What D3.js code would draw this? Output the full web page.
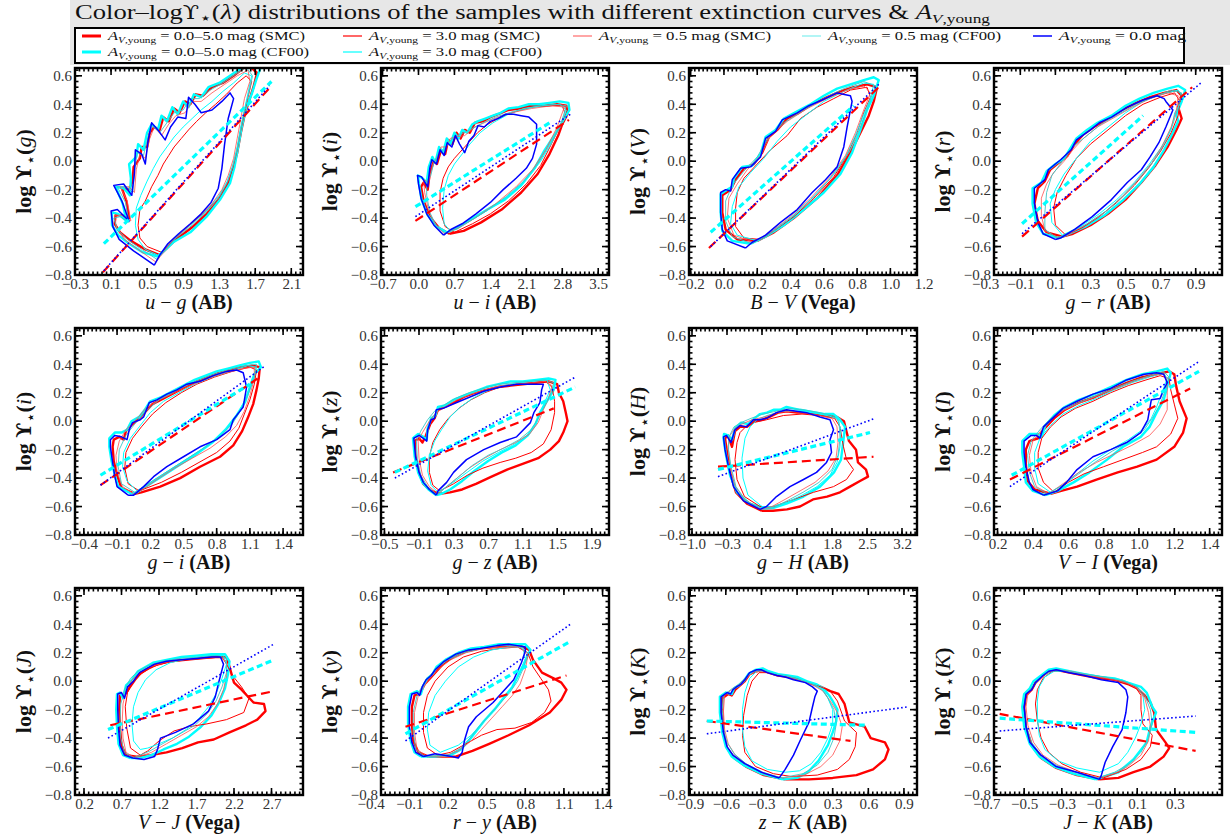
<!DOCTYPE html>
<html>
<head>
<meta charset="utf-8">
<script src="https://cdn.jsdelivr.net/npm/d3@7"></script>
<style>
  body { margin: 0; background: #fff; }
  svg text { font-family: 'Liberation Serif', 'Times New Roman', serif; }
</style>
</head>
<body>
<svg id="fig" width="1230" height="839"></svg>
<script>
// ---------------------------------------------------------------
// Tick labels
// ---------------------------------------------------------------
const yTicks = [-0.8, -0.6, -0.4, -0.2, 0.0, 0.2, 0.4, 0.6];
const ticksUG = [-0.3, 0.1, 0.5, 0.9, 1.3, 1.7, 2.1];
const ticksUI = [-0.7, 0.0, 0.7, 1.4, 2.1, 2.8, 3.5];
const ticksBV = [-0.2, 0.0, 0.2, 0.4, 0.6, 0.8, 1.0, 1.2];
const ticksGR = [-0.3, -0.1, 0.1, 0.3, 0.5, 0.7, 0.9];
const ticksGI = [-0.4, -0.1, 0.2, 0.5, 0.8, 1.1, 1.4];
const ticksGZ = [-0.5, -0.1, 0.3, 0.7, 1.1, 1.5, 1.9];
const ticksGH = [-1.0, -0.3, 0.4, 1.1, 1.8, 2.5, 3.2];
const ticksVI = [0.2, 0.4, 0.6, 0.8, 1.0, 1.2, 1.4];
const ticksVJ = [0.2, 0.7, 1.2, 1.7, 2.2, 2.7];
const ticksRY = [-0.4, -0.1, 0.2, 0.5, 0.8, 1.1, 1.4];
const ticksZK = [-0.9, -0.6, -0.3, 0.0, 0.3, 0.6, 0.9];
const ticksJK = [-0.7, -0.5, -0.3, -0.1, 0.1, 0.3];

// ---------------------------------------------------------------
// Contour outlines, one list per panel, in series order:
// [0.0-5.0 SMC, 0.0-5.0 CF00, 3.0 SMC, 3.0 CF00, 0.5 SMC, 0.5 CF00, 0.0 mag]
// ---------------------------------------------------------------
const contUG = [
  [[0.64,-0.66],[0.48,-0.62],[0.32,-0.56],[0.20,-0.50],[0.14,-0.44],[0.15,-0.38],[0.22,-0.38],[0.30,-0.40],[0.27,-0.28],[0.22,-0.19],[0.30,-0.20],[0.34,-0.14],[0.35,-0.04],[0.42,0.02],[0.44,0.10],[0.50,0.10],[0.53,0.20],[0.58,0.24],[0.64,0.22],[0.68,0.31],[0.74,0.28],[0.80,0.37],[0.86,0.34],[0.92,0.42],[0.98,0.40],[1.04,0.47],[1.12,0.46],[1.22,0.52],[1.34,0.55],[1.46,0.60],[1.62,0.68],[1.72,0.62],[1.68,0.52],[1.63,0.42],[1.58,0.32],[1.54,0.20],[1.50,0.06],[1.45,-0.06],[1.39,-0.17],[1.30,-0.27],[1.16,-0.37],[0.99,-0.47],[0.82,-0.55],[0.64,-0.66]],
  [[0.62,-0.67],[0.45,-0.64],[0.30,-0.58],[0.18,-0.52],[0.11,-0.45],[0.11,-0.36],[0.18,-0.37],[0.27,-0.42],[0.23,-0.30],[0.15,-0.18],[0.24,-0.19],[0.31,-0.24],[0.32,-0.12],[0.30,-0.02],[0.38,0.03],[0.40,0.12],[0.46,0.08],[0.50,0.20],[0.55,0.26],[0.62,0.22],[0.66,0.32],[0.72,0.28],[0.78,0.38],[0.84,0.33],[0.90,0.42],[0.96,0.38],[1.02,0.47],[1.10,0.45],[1.18,0.52],[1.30,0.55],[1.42,0.60],[1.56,0.66],[1.74,0.70],[1.76,0.66],[1.71,0.57],[1.66,0.47],[1.60,0.38],[1.55,0.24],[1.51,0.10],[1.47,-0.04],[1.42,-0.155],[1.31,-0.27],[1.16,-0.39],[0.98,-0.50],[0.79,-0.57],[0.62,-0.67]],
  [[0.66,-0.64],[0.50,-0.60],[0.42,-0.54],[0.40,-0.45],[0.42,-0.34],[0.48,-0.28],[0.55,-0.18],[0.62,-0.10],[0.68,-0.02],[0.74,0.04],[0.80,0.10],[0.88,0.16],[0.96,0.22],[1.05,0.28],[1.15,0.34],[1.26,0.40],[1.38,0.47],[1.50,0.55],[1.60,0.60],[1.66,0.56],[1.62,0.45],[1.58,0.34],[1.54,0.22],[1.50,0.08],[1.45,-0.05],[1.38,-0.17],[1.28,-0.27],[1.14,-0.36],[0.97,-0.45],[0.80,-0.55],[0.66,-0.64]],
  [[0.62,-0.66],[0.48,-0.62],[0.40,-0.55],[0.37,-0.45],[0.38,-0.33],[0.43,-0.24],[0.50,-0.14],[0.57,-0.05],[0.64,0.03],[0.72,0.10],[0.80,0.17],[0.90,0.24],[1.00,0.30],[1.10,0.36],[1.22,0.42],[1.34,0.49],[1.46,0.55],[1.58,0.62],[1.66,0.60],[1.62,0.48],[1.58,0.36],[1.54,0.24],[1.50,0.10],[1.45,-0.03],[1.39,-0.14],[1.30,-0.24],[1.17,-0.34],[1.00,-0.44],[0.82,-0.53],[0.62,-0.66]],
  [[0.60,-0.71],[0.40,-0.62],[0.25,-0.55],[0.16,-0.47],[0.14,-0.38],[0.22,-0.38],[0.32,-0.42],[0.28,-0.28],[0.20,-0.18],[0.30,-0.18],[0.36,-0.22],[0.38,-0.06],[0.42,0.05],[0.48,0.02],[0.53,0.16],[0.58,0.24],[0.66,0.18],[0.74,0.26],[0.82,0.32],[0.92,0.34],[1.00,0.42],[1.10,0.42],[1.22,0.48],[1.36,0.54],[1.50,0.60],[1.62,0.64],[1.64,0.56],[1.58,0.44],[1.54,0.30],[1.50,0.16],[1.46,0.02],[1.40,-0.10],[1.33,-0.20],[1.22,-0.30],[1.08,-0.39],[0.92,-0.48],[0.76,-0.57],[0.60,-0.71]],
  [[0.61,-0.69],[0.44,-0.62],[0.28,-0.55],[0.17,-0.48],[0.13,-0.40],[0.20,-0.39],[0.30,-0.43],[0.26,-0.29],[0.17,-0.18],[0.27,-0.18],[0.34,-0.22],[0.36,-0.07],[0.39,0.06],[0.46,0.04],[0.51,0.17],[0.56,0.25],[0.64,0.20],[0.72,0.27],[0.80,0.34],[0.90,0.36],[0.98,0.44],[1.08,0.44],[1.20,0.50],[1.34,0.55],[1.48,0.61],[1.60,0.66],[1.67,0.60],[1.63,0.48],[1.58,0.36],[1.54,0.22],[1.50,0.08],[1.45,-0.04],[1.39,-0.15],[1.30,-0.25],[1.17,-0.35],[1.00,-0.45],[0.82,-0.54],[0.61,-0.69]],
  [[0.58,-0.73],[0.35,-0.63],[0.19,-0.55],[0.12,-0.46],[0.10,-0.35],[0.17,-0.34],[0.30,-0.42],[0.22,-0.28],[0.13,-0.17],[0.24,-0.16],[0.33,-0.24],[0.36,-0.08],[0.37,0.08],[0.44,0.05],[0.48,-0.02],[0.51,0.14],[0.55,0.27],[0.62,0.22],[0.70,0.15],[0.76,0.24],[0.84,0.31],[0.93,0.30],[0.96,0.45],[1.03,0.40],[1.10,0.34],[1.22,0.36],[1.33,0.42],[1.42,0.48],[1.46,0.44],[1.40,0.30],[1.36,0.12],[1.33,-0.05],[1.29,-0.19],[1.21,-0.29],[1.10,-0.37],[0.98,-0.44],[0.85,-0.51],[0.73,-0.58],[0.64,-0.66],[0.58,-0.73]]
];
const contUI = [
  [[0.60,-0.51],[0.40,-0.47],[0.22,-0.39],[0.10,-0.28],[0.05,-0.18],[0.10,-0.15],[0.18,-0.20],[0.22,-0.08],[0.30,0.00],[0.36,-0.02],[0.44,0.08],[0.52,0.05],[0.58,0.15],[0.66,0.12],[0.74,0.20],[0.82,0.16],[0.90,0.22],[1.00,0.20],[1.10,0.27],[1.25,0.28],[1.40,0.31],[1.55,0.33],[1.75,0.36],[1.95,0.37],[2.20,0.39],[2.45,0.39],[2.70,0.40],[2.88,0.39],[2.90,0.33],[2.80,0.26],[2.72,0.18],[2.55,0.05],[2.32,-0.09],[2.00,-0.22],[1.62,-0.34],[1.22,-0.43],[0.88,-0.49],[0.60,-0.51]],
  [[0.55,-0.50],[0.35,-0.46],[0.18,-0.38],[0.06,-0.27],[0.01,-0.16],[-0.01,-0.10],[0.08,-0.12],[0.16,-0.15],[0.20,-0.04],[0.27,0.03],[0.33,-0.01],[0.40,0.10],[0.48,0.06],[0.55,0.16],[0.62,0.12],[0.70,0.20],[0.78,0.16],[0.85,0.22],[0.95,0.20],[1.05,0.26],[1.15,0.28],[1.30,0.30],[1.45,0.32],[1.60,0.34],[1.75,0.37],[1.95,0.38],[2.15,0.40],[2.35,0.40],[2.55,0.41],[2.75,0.42],[2.92,0.41],[2.94,0.36],[2.84,0.30],[2.66,0.19],[2.46,0.08],[2.26,-0.05],[2.00,-0.17],[1.68,-0.27],[1.34,-0.34],[1.02,-0.41],[0.76,-0.47],[0.55,-0.50]],
  [[0.70,-0.50],[0.52,-0.46],[0.42,-0.35],[0.42,-0.22],[0.48,-0.12],[0.58,-0.04],[0.70,0.02],[0.85,0.08],[1.00,0.14],[1.15,0.20],[1.35,0.26],[1.60,0.31],[1.90,0.35],[2.20,0.38],[2.50,0.39],[2.80,0.39],[2.86,0.33],[2.72,0.22],[2.56,0.10],[2.38,-0.03],[2.10,-0.16],[1.75,-0.28],[1.40,-0.37],[1.05,-0.44],[0.70,-0.50]],
  [[0.62,-0.49],[0.50,-0.44],[0.47,-0.33],[0.50,-0.20],[0.58,-0.10],[0.70,-0.02],[0.85,0.05],[1.00,0.12],[1.20,0.20],[1.45,0.27],[1.75,0.33],[2.05,0.37],[2.40,0.39],[2.75,0.40],[2.88,0.36],[2.76,0.25],[2.58,0.12],[2.38,0.00],[2.12,-0.12],[1.80,-0.23],[1.45,-0.32],[1.10,-0.40],[0.80,-0.46],[0.62,-0.49]],
  [[0.50,-0.51],[0.32,-0.44],[0.20,-0.35],[0.12,-0.22],[0.10,-0.13],[0.20,-0.15],[0.28,-0.02],[0.36,0.02],[0.44,0.10],[0.55,0.10],[0.62,0.16],[0.72,0.17],[0.90,0.18],[1.10,0.24],[1.40,0.29],[1.80,0.34],[2.20,0.37],[2.60,0.39],[2.84,0.38],[2.70,0.24],[2.48,0.08],[2.22,-0.06],[1.90,-0.18],[1.50,-0.30],[1.10,-0.40],[0.78,-0.47],[0.50,-0.51]],
  [[0.52,-0.51],[0.34,-0.45],[0.22,-0.36],[0.16,-0.24],[0.16,-0.14],[0.24,-0.10],[0.30,-0.01],[0.40,0.06],[0.50,0.08],[0.60,0.14],[0.75,0.18],[0.95,0.21],[1.20,0.26],[1.50,0.31],[1.85,0.35],[2.25,0.38],[2.65,0.40],[2.88,0.39],[2.78,0.27],[2.58,0.13],[2.34,-0.01],[2.05,-0.14],[1.70,-0.25],[1.32,-0.35],[0.96,-0.43],[0.70,-0.48],[0.52,-0.51]],
  [[0.49,-0.52],[0.30,-0.45],[0.16,-0.37],[0.05,-0.26],[0.00,-0.16],[-0.02,-0.10],[0.06,-0.11],[0.18,-0.18],[0.22,-0.05],[0.26,0.01],[0.35,-0.02],[0.42,0.08],[0.50,0.04],[0.56,0.13],[0.65,0.10],[0.72,0.18],[0.80,0.12],[0.90,0.06],[0.98,0.14],[1.08,0.18],[1.16,0.25],[1.28,0.24],[1.40,0.28],[1.55,0.30],[1.70,0.33],[1.85,0.33],[2.00,0.32],[2.15,0.31],[2.30,0.26],[2.30,0.12],[2.22,0.02],[2.10,-0.05],[1.90,-0.12],[1.65,-0.20],[1.40,-0.29],[1.12,-0.37],[0.85,-0.44],[0.63,-0.48],[0.49,-0.52]]
];
const contBV = [
  [[0.20,-0.56],[0.08,-0.55],[0.01,-0.48],[-0.01,-0.36],[-0.01,-0.24],[0.04,-0.20],[0.07,-0.13],[0.12,-0.05],[0.18,-0.02],[0.23,0.06],[0.27,0.17],[0.32,0.22],[0.38,0.30],[0.45,0.34],[0.53,0.40],[0.62,0.45],[0.70,0.49],[0.78,0.52],[0.86,0.54],[0.92,0.52],[0.90,0.42],[0.87,0.32],[0.82,0.20],[0.76,0.06],[0.68,-0.10],[0.56,-0.26],[0.42,-0.40],[0.30,-0.50],[0.20,-0.56]],
  [[0.16,-0.58],[0.05,-0.56],[-0.01,-0.49],[-0.02,-0.36],[-0.02,-0.23],[0.02,-0.20],[0.05,-0.18],[0.06,-0.12],[0.11,-0.04],[0.17,-0.03],[0.22,0.05],[0.25,0.17],[0.31,0.22],[0.36,0.30],[0.44,0.35],[0.52,0.40],[0.60,0.46],[0.68,0.51],[0.76,0.54],[0.84,0.57],[0.90,0.59],[0.93,0.57],[0.90,0.46],[0.86,0.36],[0.82,0.22],[0.77,0.06],[0.70,-0.09],[0.60,-0.22],[0.48,-0.34],[0.36,-0.45],[0.25,-0.53],[0.16,-0.58]],
  [[0.22,-0.55],[0.12,-0.54],[0.07,-0.46],[0.07,-0.33],[0.08,-0.22],[0.12,-0.12],[0.20,-0.02],[0.28,0.08],[0.38,0.18],[0.46,0.30],[0.56,0.38],[0.66,0.44],[0.76,0.50],[0.86,0.52],[0.88,0.45],[0.84,0.34],[0.80,0.20],[0.74,0.04],[0.66,-0.11],[0.54,-0.26],[0.42,-0.39],[0.30,-0.49],[0.22,-0.55]],
  [[0.20,-0.56],[0.08,-0.52],[0.04,-0.44],[0.05,-0.32],[0.09,-0.18],[0.16,-0.08],[0.24,0.02],[0.32,0.14],[0.40,0.24],[0.50,0.33],[0.60,0.42],[0.72,0.49],[0.84,0.55],[0.90,0.54],[0.88,0.44],[0.84,0.33],[0.79,0.18],[0.73,0.03],[0.64,-0.12],[0.52,-0.27],[0.40,-0.40],[0.28,-0.50],[0.20,-0.56]],
  [[0.18,-0.57],[0.06,-0.52],[0.02,-0.40],[0.03,-0.26],[0.08,-0.16],[0.14,-0.06],[0.22,0.04],[0.28,0.18],[0.38,0.28],[0.50,0.37],[0.62,0.44],[0.74,0.50],[0.84,0.53],[0.88,0.48],[0.84,0.36],[0.79,0.20],[0.73,0.04],[0.64,-0.11],[0.52,-0.26],[0.40,-0.39],[0.28,-0.50],[0.18,-0.57]],
  [[0.17,-0.58],[0.05,-0.53],[0.01,-0.42],[0.01,-0.28],[0.05,-0.17],[0.12,-0.07],[0.20,0.03],[0.27,0.17],[0.36,0.27],[0.48,0.36],[0.60,0.44],[0.72,0.51],[0.84,0.56],[0.91,0.53],[0.87,0.40],[0.82,0.24],[0.76,0.08],[0.67,-0.08],[0.55,-0.24],[0.42,-0.38],[0.29,-0.50],[0.17,-0.58]],
  [[0.13,-0.61],[0.02,-0.56],[-0.01,-0.48],[-0.02,-0.36],[-0.02,-0.22],[0.01,-0.20],[0.04,-0.21],[0.05,-0.13],[0.10,-0.05],[0.16,-0.04],[0.22,0.03],[0.25,0.16],[0.31,0.21],[0.35,0.29],[0.44,0.34],[0.51,0.39],[0.59,0.43],[0.68,0.48],[0.76,0.46],[0.77,0.42],[0.74,0.24],[0.72,0.10],[0.68,-0.04],[0.61,-0.13],[0.53,-0.22],[0.44,-0.34],[0.34,-0.43],[0.25,-0.52],[0.17,-0.57],[0.13,-0.61]]
];
const contGR = [
  [[0.14,-0.53],[0.05,-0.50],[0.00,-0.42],[-0.02,-0.30],[0.00,-0.19],[0.04,-0.14],[0.07,-0.06],[0.12,-0.01],[0.17,0.04],[0.21,0.12],[0.26,0.19],[0.32,0.24],[0.40,0.30],[0.48,0.36],[0.56,0.41],[0.64,0.45],[0.72,0.48],[0.79,0.50],[0.82,0.46],[0.80,0.38],[0.82,0.30],[0.79,0.22],[0.74,0.10],[0.67,-0.03],[0.59,-0.15],[0.50,-0.27],[0.40,-0.37],[0.30,-0.45],[0.20,-0.51],[0.14,-0.53]],
  [[0.12,-0.54],[0.03,-0.51],[-0.01,-0.43],[-0.03,-0.30],[-0.03,-0.19],[0.02,-0.15],[0.05,-0.07],[0.10,-0.02],[0.15,0.02],[0.18,0.08],[0.22,0.16],[0.28,0.22],[0.34,0.27],[0.42,0.32],[0.50,0.39],[0.58,0.44],[0.66,0.48],[0.74,0.51],[0.80,0.53],[0.84,0.50],[0.82,0.42],[0.79,0.33],[0.80,0.28],[0.77,0.20],[0.72,0.08],[0.66,-0.04],[0.58,-0.16],[0.48,-0.28],[0.38,-0.38],[0.27,-0.46],[0.18,-0.51],[0.12,-0.54]],
  [[0.16,-0.52],[0.10,-0.45],[0.09,-0.33],[0.11,-0.22],[0.16,-0.10],[0.22,0.02],[0.30,0.12],[0.40,0.22],[0.50,0.32],[0.60,0.40],[0.70,0.45],[0.78,0.48],[0.81,0.42],[0.80,0.32],[0.76,0.20],[0.70,0.07],[0.63,-0.05],[0.55,-0.17],[0.45,-0.29],[0.35,-0.39],[0.25,-0.47],[0.16,-0.52]],
  [[0.14,-0.52],[0.08,-0.43],[0.07,-0.30],[0.10,-0.20],[0.15,-0.09],[0.22,0.02],[0.30,0.14],[0.40,0.24],[0.50,0.34],[0.60,0.42],[0.70,0.47],[0.80,0.50],[0.83,0.44],[0.78,0.34],[0.76,0.22],[0.70,0.09],[0.63,-0.03],[0.55,-0.15],[0.45,-0.27],[0.35,-0.37],[0.24,-0.46],[0.14,-0.52]],
  [[0.12,-0.54],[0.04,-0.49],[0.02,-0.38],[0.02,-0.26],[0.05,-0.16],[0.09,-0.08],[0.15,0.00],[0.20,0.08],[0.26,0.16],[0.34,0.24],[0.44,0.31],[0.54,0.38],[0.64,0.44],[0.74,0.48],[0.80,0.46],[0.79,0.36],[0.76,0.24],[0.71,0.11],[0.65,-0.01],[0.57,-0.13],[0.48,-0.25],[0.38,-0.36],[0.27,-0.45],[0.18,-0.51],[0.12,-0.54]],
  [[0.11,-0.54],[0.04,-0.48],[0.04,-0.36],[0.05,-0.22],[0.08,-0.10],[0.14,0.00],[0.20,0.10],[0.28,0.18],[0.36,0.26],[0.46,0.33],[0.56,0.40],[0.66,0.45],[0.76,0.50],[0.82,0.48],[0.80,0.38],[0.77,0.26],[0.72,0.12],[0.66,0.00],[0.58,-0.12],[0.49,-0.24],[0.39,-0.35],[0.28,-0.44],[0.18,-0.50],[0.11,-0.54]],
  [[0.10,-0.55],[0.03,-0.51],[0.00,-0.43],[-0.02,-0.29],[-0.02,-0.19],[0.02,-0.15],[0.04,-0.13],[0.06,-0.06],[0.10,-0.02],[0.13,0.01],[0.19,0.08],[0.22,0.15],[0.30,0.22],[0.35,0.27],[0.42,0.31],[0.51,0.38],[0.60,0.43],[0.68,0.46],[0.72,0.44],[0.73,0.42],[0.77,0.36],[0.73,0.24],[0.69,0.13],[0.64,0.03],[0.59,-0.06],[0.51,-0.15],[0.42,-0.27],[0.31,-0.39],[0.21,-0.48],[0.13,-0.54],[0.10,-0.55]]
];
const contGI = [
  [[0.06,-0.51],[-0.06,-0.47],[-0.10,-0.38],[-0.13,-0.28],[-0.14,-0.18],[-0.13,-0.13],[-0.08,-0.11],[-0.04,-0.13],[-0.02,-0.07],[0.04,-0.02],[0.10,0.02],[0.16,0.07],[0.22,0.12],[0.32,0.16],[0.42,0.20],[0.52,0.24],[0.62,0.28],[0.72,0.31],[0.82,0.34],[0.92,0.36],[1.02,0.38],[1.12,0.39],[1.19,0.38],[1.18,0.30],[1.16,0.22],[1.13,0.12],[1.08,0.02],[1.03,-0.07],[0.95,-0.17],[0.83,-0.25],[0.65,-0.32],[0.47,-0.40],[0.29,-0.46],[0.12,-0.50],[0.06,-0.51]],
  [[0.03,-0.51],[-0.09,-0.46],[-0.12,-0.38],[-0.15,-0.28],[-0.17,-0.18],[-0.17,-0.12],[-0.12,-0.08],[-0.06,-0.08],[-0.01,-0.06],[0.03,0.00],[0.10,0.03],[0.15,0.08],[0.20,0.14],[0.30,0.17],[0.40,0.21],[0.50,0.25],[0.60,0.29],[0.70,0.32],[0.80,0.35],[0.90,0.37],[1.00,0.39],[1.10,0.41],[1.18,0.42],[1.20,0.38],[1.14,0.33],[1.10,0.24],[1.06,0.14],[0.98,0.04],[0.88,-0.06],[0.76,-0.15],[0.62,-0.23],[0.46,-0.31],[0.30,-0.39],[0.18,-0.45],[0.08,-0.50],[0.03,-0.51]],
  [[0.10,-0.49],[0.00,-0.44],[-0.03,-0.33],[-0.02,-0.22],[0.04,-0.12],[0.12,-0.04],[0.22,0.05],[0.34,0.13],[0.48,0.20],[0.62,0.26],[0.78,0.31],[0.94,0.35],[1.10,0.38],[1.16,0.36],[1.14,0.26],[1.10,0.15],[1.05,0.05],[1.00,-0.05],[0.92,-0.14],[0.80,-0.22],[0.64,-0.29],[0.48,-0.36],[0.30,-0.43],[0.10,-0.49]],
  [[0.08,-0.49],[-0.01,-0.42],[-0.05,-0.32],[-0.04,-0.22],[0.02,-0.12],[0.10,-0.04],[0.20,0.06],[0.32,0.14],[0.46,0.20],[0.60,0.26],[0.76,0.31],[0.92,0.35],[1.08,0.39],[1.16,0.38],[1.12,0.28],[1.06,0.16],[1.00,0.06],[0.92,-0.03],[0.80,-0.12],[0.66,-0.20],[0.50,-0.28],[0.34,-0.36],[0.20,-0.43],[0.08,-0.49]],
  [[0.05,-0.51],[-0.05,-0.46],[-0.10,-0.36],[-0.11,-0.24],[-0.08,-0.14],[-0.02,-0.06],[0.06,0.00],[0.16,0.09],[0.28,0.15],[0.42,0.20],[0.56,0.25],[0.72,0.30],[0.88,0.34],[1.04,0.37],[1.14,0.38],[1.14,0.30],[1.10,0.18],[1.05,0.07],[0.98,-0.03],[0.88,-0.11],[0.74,-0.19],[0.58,-0.26],[0.42,-0.33],[0.26,-0.41],[0.13,-0.48],[0.05,-0.51]],
  [[0.06,-0.50],[-0.06,-0.44],[-0.09,-0.32],[-0.08,-0.20],[-0.02,-0.10],[0.06,-0.02],[0.16,0.07],[0.28,0.15],[0.42,0.21],[0.58,0.27],[0.74,0.32],[0.90,0.36],[1.06,0.39],[1.16,0.40],[1.14,0.30],[1.08,0.18],[1.02,0.08],[0.94,-0.02],[0.84,-0.10],[0.70,-0.18],[0.54,-0.26],[0.38,-0.34],[0.22,-0.42],[0.06,-0.50]],
  [[0.00,-0.52],[-0.10,-0.46],[-0.12,-0.39],[-0.14,-0.29],[-0.16,-0.18],[-0.16,-0.13],[-0.12,-0.10],[-0.06,-0.11],[-0.01,-0.13],[0.01,-0.06],[0.04,-0.01],[0.11,0.01],[0.14,0.03],[0.19,0.13],[0.26,0.15],[0.35,0.19],[0.44,0.22],[0.53,0.26],[0.65,0.28],[0.77,0.32],[0.89,0.35],[0.98,0.36],[1.04,0.34],[1.07,0.24],[1.04,0.10],[1.00,0.06],[0.95,0.01],[0.92,-0.06],[0.80,-0.13],[0.65,-0.18],[0.50,-0.25],[0.35,-0.32],[0.23,-0.39],[0.14,-0.46],[0.05,-0.52],[0.00,-0.52]]
];
const contGZ = [
  [[0.14,-0.51],[0.04,-0.49],[-0.05,-0.44],[-0.10,-0.36],[-0.14,-0.25],[-0.15,-0.14],[-0.10,-0.12],[-0.06,-0.15],[-0.02,-0.10],[0.03,-0.02],[0.08,0.02],[0.12,0.08],[0.20,0.10],[0.30,0.13],[0.42,0.17],[0.55,0.20],[0.68,0.22],[0.82,0.24],[0.96,0.25],[1.10,0.26],[1.26,0.27],[1.40,0.28],[1.50,0.26],[1.52,0.20],[1.57,0.14],[1.60,0.06],[1.62,0.00],[1.57,-0.08],[1.52,-0.14],[1.42,-0.20],[1.28,-0.26],[1.10,-0.30],[0.92,-0.34],[0.74,-0.39],[0.56,-0.44],[0.40,-0.48],[0.26,-0.50],[0.14,-0.51]],
  [[0.10,-0.52],[0.01,-0.48],[-0.06,-0.43],[-0.11,-0.36],[-0.15,-0.25],[-0.17,-0.12],[-0.11,-0.09],[-0.05,-0.11],[-0.01,-0.13],[0.00,-0.05],[0.04,0.02],[0.09,0.04],[0.12,0.10],[0.20,0.11],[0.30,0.15],[0.42,0.18],[0.55,0.21],[0.68,0.24],[0.82,0.26],[0.96,0.28],[1.10,0.28],[1.26,0.29],[1.40,0.30],[1.48,0.29],[1.46,0.22],[1.38,0.14],[1.30,0.06],[1.25,-0.02],[1.16,-0.10],[1.02,-0.17],[0.86,-0.22],[0.70,-0.28],[0.54,-0.35],[0.40,-0.42],[0.26,-0.48],[0.16,-0.51],[0.10,-0.52]],
  [[0.14,-0.49],[0.06,-0.45],[0.02,-0.36],[0.02,-0.25],[0.06,-0.15],[0.14,-0.06],[0.24,0.02],[0.36,0.09],[0.50,0.15],[0.66,0.20],[0.84,0.24],[1.02,0.26],[1.20,0.27],[1.36,0.28],[1.44,0.24],[1.47,0.14],[1.47,0.06],[1.43,-0.06],[1.34,-0.16],[1.20,-0.22],[1.02,-0.26],[0.84,-0.29],[0.64,-0.33],[0.46,-0.38],[0.30,-0.44],[0.14,-0.49]],
  [[0.12,-0.50],[0.04,-0.45],[0.00,-0.35],[0.02,-0.24],[0.08,-0.14],[0.16,-0.06],[0.26,0.03],[0.38,0.10],[0.52,0.16],[0.68,0.21],[0.86,0.25],[1.04,0.27],[1.22,0.28],[1.38,0.29],[1.42,0.22],[1.36,0.14],[1.30,0.06],[1.24,-0.03],[1.14,-0.11],[0.98,-0.17],[0.82,-0.22],[0.64,-0.28],[0.48,-0.35],[0.32,-0.42],[0.12,-0.50]],
  [[0.12,-0.51],[0.02,-0.46],[-0.06,-0.38],[-0.10,-0.26],[-0.11,-0.14],[-0.06,-0.08],[0.02,0.00],[0.10,0.06],[0.20,0.10],[0.34,0.15],[0.50,0.19],[0.66,0.22],[0.84,0.25],[1.02,0.26],[1.20,0.27],[1.36,0.28],[1.44,0.25],[1.40,0.16],[1.34,0.08],[1.28,-0.01],[1.18,-0.09],[1.02,-0.15],[0.84,-0.20],[0.66,-0.26],[0.48,-0.33],[0.32,-0.41],[0.20,-0.47],[0.12,-0.51]],
  [[0.11,-0.52],[0.00,-0.46],[-0.08,-0.38],[-0.12,-0.26],[-0.13,-0.14],[-0.08,-0.07],[0.00,0.01],[0.08,0.07],[0.18,0.11],[0.32,0.16],[0.48,0.20],[0.64,0.23],[0.82,0.26],[1.00,0.27],[1.18,0.28],[1.36,0.29],[1.46,0.27],[1.42,0.18],[1.35,0.10],[1.28,0.02],[1.20,-0.06],[1.06,-0.13],[0.88,-0.19],[0.70,-0.24],[0.52,-0.31],[0.36,-0.39],[0.22,-0.46],[0.11,-0.52]],
  [[0.10,-0.52],[0.02,-0.48],[-0.05,-0.43],[-0.10,-0.36],[-0.14,-0.25],[-0.16,-0.12],[-0.10,-0.10],[-0.05,-0.12],[-0.01,-0.14],[0.00,-0.06],[0.04,0.01],[0.08,0.02],[0.10,0.08],[0.18,0.09],[0.33,0.13],[0.49,0.17],[0.65,0.21],[0.84,0.24],[1.03,0.26],[1.23,0.26],[1.34,0.26],[1.32,0.22],[1.30,0.13],[1.23,0.06],[1.19,-0.01],[1.03,-0.11],[0.84,-0.15],[0.65,-0.20],[0.45,-0.27],[0.30,-0.36],[0.22,-0.43],[0.12,-0.49],[0.10,-0.52]]
];
const contGH = [
  [[0.40,-0.63],[0.10,-0.58],[-0.12,-0.50],[-0.24,-0.36],[-0.30,-0.22],[-0.34,-0.12],[-0.28,-0.10],[-0.20,-0.18],[-0.14,-0.07],[-0.04,-0.04],[0.10,-0.04],[0.25,0.00],[0.40,0.01],[0.55,0.03],[0.72,0.06],[0.90,0.07],[1.10,0.06],[1.30,0.06],[1.50,0.05],[1.70,0.04],[1.90,0.03],[2.04,0.00],[2.08,-0.06],[2.14,-0.14],[2.28,-0.20],[2.32,-0.29],[2.48,-0.34],[2.52,-0.39],[2.36,-0.42],[2.16,-0.46],[1.96,-0.50],[1.70,-0.53],[1.42,-0.55],[1.16,-0.60],[0.90,-0.62],[0.62,-0.63],[0.40,-0.63]],
  [[0.45,-0.61],[0.15,-0.58],[-0.10,-0.50],[-0.24,-0.38],[-0.32,-0.24],[-0.37,-0.12],[-0.36,-0.09],[-0.28,-0.10],[-0.20,-0.13],[-0.14,-0.05],[-0.02,-0.01],[0.12,-0.02],[0.25,0.02],[0.36,0.05],[0.50,0.06],[0.63,0.08],[0.76,0.08],[0.89,0.10],[1.02,0.09],[1.16,0.08],[1.32,0.07],[1.49,0.06],[1.66,0.05],[1.83,0.05],[1.96,0.01],[2.06,-0.04],[2.03,-0.13],[1.98,-0.27],[1.84,-0.36],[1.56,-0.46],[1.23,-0.53],[0.89,-0.58],[0.63,-0.61],[0.45,-0.61]],
  [[0.36,-0.60],[0.05,-0.53],[-0.10,-0.41],[-0.14,-0.27],[-0.10,-0.15],[-0.04,-0.08],[0.10,-0.03],[0.23,-0.01],[0.49,0.01],[0.83,0.04],[1.20,0.05],[1.55,0.04],[1.85,0.02],[1.96,-0.04],[2.03,-0.18],[2.09,-0.27],[2.23,-0.34],[2.09,-0.41],[1.83,-0.46],[1.43,-0.50],[1.03,-0.55],[0.63,-0.60],[0.36,-0.60]],
  [[0.40,-0.60],[0.12,-0.52],[0.02,-0.40],[0.00,-0.26],[0.06,-0.12],[0.16,-0.04],[0.30,0.01],[0.50,0.04],[0.80,0.07],[1.10,0.07],[1.40,0.06],[1.70,0.04],[1.90,0.02],[1.98,-0.06],[1.96,-0.18],[1.90,-0.29],[1.76,-0.38],[1.50,-0.46],[1.20,-0.52],[0.90,-0.57],[0.60,-0.60],[0.40,-0.60]],
  [[0.38,-0.62],[0.05,-0.55],[-0.15,-0.45],[-0.24,-0.30],[-0.28,-0.18],[-0.24,-0.10],[-0.14,-0.05],[0.00,-0.02],[0.20,0.01],[0.45,0.03],[0.70,0.06],[0.95,0.07],[1.25,0.06],[1.55,0.04],[1.80,0.02],[1.90,-0.04],[1.92,-0.15],[1.88,-0.26],[1.72,-0.35],[1.46,-0.43],[1.16,-0.49],[0.86,-0.55],[0.60,-0.60],[0.38,-0.62]],
  [[0.42,-0.62],[0.08,-0.56],[-0.12,-0.46],[-0.22,-0.32],[-0.27,-0.20],[-0.26,-0.11],[-0.16,-0.04],[-0.02,-0.01],[0.18,0.02],[0.42,0.05],[0.68,0.07],[0.94,0.09],[1.24,0.08],[1.54,0.06],[1.80,0.04],[1.94,0.00],[1.96,-0.12],[1.92,-0.24],[1.80,-0.34],[1.54,-0.43],[1.22,-0.50],[0.90,-0.56],[0.62,-0.61],[0.42,-0.62]],
  [[0.36,-0.62],[0.03,-0.56],[-0.17,-0.46],[-0.27,-0.32],[-0.34,-0.20],[-0.37,-0.11],[-0.31,-0.10],[-0.22,-0.15],[-0.14,-0.06],[-0.04,-0.03],[0.09,-0.04],[0.23,0.01],[0.36,0.01],[0.49,0.02],[0.69,0.06],[0.89,0.08],[1.09,0.07],[1.29,0.06],[1.56,0.03],[1.76,0.01],[1.83,-0.06],[1.76,-0.13],[1.79,-0.22],[1.69,-0.29],[1.49,-0.36],[1.23,-0.41],[0.96,-0.46],[0.69,-0.53],[0.49,-0.60],[0.36,-0.62]]
];
const contVI = [
  [[0.50,-0.51],[0.41,-0.48],[0.37,-0.42],[0.36,-0.30],[0.36,-0.20],[0.38,-0.14],[0.43,-0.12],[0.46,-0.06],[0.52,0.02],[0.58,0.08],[0.66,0.13],[0.75,0.17],[0.84,0.22],[0.93,0.27],[1.02,0.31],[1.10,0.33],[1.17,0.35],[1.20,0.33],[1.21,0.25],[1.23,0.14],[1.27,0.02],[1.25,-0.08],[1.20,-0.18],[1.10,-0.27],[0.99,-0.32],[0.88,-0.36],[0.76,-0.41],[0.65,-0.46],[0.56,-0.49],[0.50,-0.51]],
  [[0.47,-0.52],[0.40,-0.49],[0.36,-0.43],[0.35,-0.32],[0.34,-0.22],[0.34,-0.14],[0.38,-0.09],[0.43,-0.09],[0.45,-0.11],[0.47,-0.03],[0.52,0.04],[0.58,0.10],[0.66,0.15],[0.75,0.19],[0.84,0.24],[0.93,0.29],[1.02,0.33],[1.10,0.35],[1.16,0.37],[1.18,0.34],[1.16,0.24],[1.14,0.15],[1.10,0.06],[1.06,-0.04],[1.01,-0.11],[0.91,-0.18],[0.82,-0.27],[0.72,-0.36],[0.63,-0.43],[0.54,-0.49],[0.47,-0.52]],
  [[0.52,-0.50],[0.46,-0.43],[0.43,-0.33],[0.43,-0.22],[0.45,-0.12],[0.50,-0.04],[0.56,0.03],[0.64,0.09],[0.74,0.14],[0.84,0.20],[0.94,0.25],[1.04,0.29],[1.12,0.32],[1.17,0.30],[1.18,0.22],[1.20,0.12],[1.22,0.02],[1.18,-0.09],[1.10,-0.18],[1.02,-0.22],[0.91,-0.27],[0.80,-0.32],[0.69,-0.37],[0.60,-0.43],[0.52,-0.50]],
  [[0.50,-0.50],[0.43,-0.44],[0.41,-0.33],[0.41,-0.22],[0.44,-0.12],[0.50,-0.03],[0.57,0.05],[0.66,0.11],[0.76,0.16],[0.86,0.22],[0.96,0.27],[1.06,0.31],[1.14,0.34],[1.16,0.30],[1.13,0.20],[1.10,0.10],[1.07,0.02],[1.02,-0.06],[0.94,-0.13],[0.84,-0.20],[0.74,-0.28],[0.66,-0.36],[0.58,-0.44],[0.50,-0.50]],
  [[0.49,-0.51],[0.42,-0.46],[0.39,-0.36],[0.38,-0.24],[0.40,-0.14],[0.45,-0.06],[0.51,0.02],[0.58,0.08],[0.67,0.13],[0.77,0.18],[0.87,0.23],[0.97,0.28],[1.07,0.32],[1.14,0.34],[1.16,0.28],[1.16,0.18],[1.16,0.08],[1.12,-0.02],[1.06,-0.10],[0.96,-0.17],[0.86,-0.23],[0.76,-0.29],[0.66,-0.36],[0.57,-0.44],[0.49,-0.51]],
  [[0.48,-0.51],[0.41,-0.46],[0.38,-0.36],[0.37,-0.24],[0.39,-0.14],[0.44,-0.06],[0.50,0.02],[0.57,0.08],[0.66,0.13],[0.76,0.18],[0.86,0.23],[0.96,0.28],[1.06,0.32],[1.14,0.35],[1.17,0.31],[1.15,0.22],[1.12,0.12],[1.08,0.03],[1.03,-0.06],[0.95,-0.14],[0.85,-0.21],[0.75,-0.29],[0.66,-0.37],[0.57,-0.45],[0.48,-0.51]],
  [[0.46,-0.52],[0.40,-0.48],[0.38,-0.43],[0.36,-0.32],[0.35,-0.22],[0.35,-0.14],[0.39,-0.10],[0.42,-0.10],[0.44,-0.12],[0.46,-0.04],[0.52,0.03],[0.57,0.09],[0.65,0.14],[0.74,0.19],[0.84,0.23],[0.93,0.29],[1.03,0.33],[1.10,0.34],[1.14,0.33],[1.16,0.27],[1.14,0.22],[1.12,0.16],[1.07,0.15],[1.06,0.08],[1.05,0.01],[1.01,-0.08],[0.93,-0.15],[0.84,-0.20],[0.74,-0.25],[0.65,-0.34],[0.59,-0.43],[0.54,-0.49],[0.46,-0.52]]
];
const contVJ = [
  [[0.90,-0.53],[0.76,-0.52],[0.70,-0.45],[0.68,-0.33],[0.67,-0.20],[0.68,-0.10],[0.74,-0.10],[0.80,-0.05],[0.88,0.01],[0.96,0.06],[1.06,0.09],[1.18,0.12],[1.35,0.14],[1.55,0.15],[1.75,0.16],[1.95,0.17],[2.10,0.17],[2.14,0.10],[2.20,-0.01],[2.30,-0.06],[2.46,-0.15],[2.60,-0.16],[2.62,-0.21],[2.51,-0.27],[2.36,-0.31],[2.14,-0.36],[1.93,-0.41],[1.72,-0.43],[1.51,-0.47],[1.30,-0.50],[1.09,-0.52],[0.90,-0.53]],
  [[0.82,-0.54],[0.72,-0.52],[0.66,-0.44],[0.64,-0.32],[0.63,-0.20],[0.64,-0.09],[0.68,-0.08],[0.72,-0.12],[0.76,-0.03],[0.84,0.01],[0.92,0.07],[1.02,0.10],[1.12,0.13],[1.30,0.15],[1.50,0.17],[1.70,0.18],[1.90,0.19],[2.08,0.19],[2.14,0.14],[2.12,0.05],[2.08,-0.05],[2.00,-0.15],[1.90,-0.24],[1.76,-0.32],[1.60,-0.39],[1.44,-0.44],[1.26,-0.48],[1.10,-0.52],[0.95,-0.54],[0.82,-0.54]],
  [[0.95,-0.52],[0.82,-0.47],[0.77,-0.33],[0.75,-0.18],[0.78,-0.08],[0.86,0.00],[0.96,0.05],[1.10,0.10],[1.30,0.13],[1.55,0.15],[1.80,0.16],[2.04,0.17],[2.10,0.12],[2.18,0.04],[2.30,-0.04],[2.40,-0.12],[2.33,-0.22],[2.10,-0.27],[1.84,-0.30],[1.60,-0.32],[1.40,-0.35],[1.20,-0.42],[1.05,-0.49],[0.95,-0.52]],
  [[0.95,-0.48],[0.86,-0.42],[0.84,-0.30],[0.86,-0.18],[0.92,-0.08],[1.02,0.01],[1.16,0.08],[1.35,0.13],[1.60,0.16],[1.85,0.18],[2.06,0.18],[2.10,0.12],[2.04,0.02],[1.96,-0.09],[1.86,-0.18],[1.72,-0.27],[1.56,-0.34],[1.38,-0.40],[1.20,-0.44],[1.05,-0.47],[0.95,-0.48]],
  [[0.88,-0.54],[0.76,-0.50],[0.72,-0.40],[0.71,-0.28],[0.72,-0.16],[0.76,-0.07],[0.84,0.01],[0.94,0.06],[1.08,0.10],[1.26,0.13],[1.50,0.15],[1.76,0.16],[2.00,0.17],[2.10,0.14],[2.10,0.04],[2.06,-0.06],[1.98,-0.16],[1.86,-0.25],[1.70,-0.32],[1.50,-0.38],[1.30,-0.44],[1.10,-0.50],[0.88,-0.54]],
  [[0.86,-0.54],[0.74,-0.50],[0.69,-0.40],[0.68,-0.28],[0.69,-0.16],[0.74,-0.06],[0.82,0.02],[0.92,0.07],[1.06,0.11],[1.24,0.14],[1.48,0.16],[1.74,0.17],[1.98,0.18],[2.10,0.16],[2.10,0.06],[2.04,-0.04],[1.96,-0.14],[1.84,-0.23],[1.68,-0.31],[1.48,-0.37],[1.28,-0.43],[1.08,-0.49],[0.86,-0.54]],
  [[0.85,-0.54],[0.74,-0.52],[0.68,-0.45],[0.66,-0.33],[0.65,-0.20],[0.65,-0.09],[0.70,-0.08],[0.74,-0.12],[0.78,-0.04],[0.86,0.00],[0.94,0.06],[1.04,0.09],[1.14,0.12],[1.30,0.14],[1.50,0.15],[1.70,0.16],[1.90,0.17],[2.02,0.17],[2.06,0.12],[2.00,0.00],[1.95,-0.11],[1.86,-0.21],[1.66,-0.30],[1.42,-0.36],[1.22,-0.40],[1.18,-0.48],[1.14,-0.53],[1.00,-0.55],[0.85,-0.54]]
];
const contRY = [
  [[0.05,-0.53],[-0.03,-0.50],[-0.07,-0.42],[-0.08,-0.30],[-0.08,-0.18],[-0.06,-0.10],[-0.02,-0.09],[0.02,-0.02],[0.06,0.02],[0.10,0.06],[0.16,0.12],[0.24,0.17],[0.34,0.21],[0.44,0.23],[0.56,0.24],[0.66,0.25],[0.76,0.25],[0.83,0.22],[0.86,0.15],[0.93,0.06],[1.02,0.02],[1.08,-0.01],[1.12,-0.06],[1.08,-0.13],[0.99,-0.22],[0.83,-0.31],[0.67,-0.38],[0.52,-0.44],[0.39,-0.49],[0.26,-0.53],[0.05,-0.53]],
  [[-0.01,-0.53],[-0.06,-0.50],[-0.09,-0.42],[-0.11,-0.30],[-0.11,-0.18],[-0.09,-0.09],[-0.04,-0.07],[-0.01,-0.09],[0.01,-0.03],[0.04,0.02],[0.08,0.05],[0.11,0.10],[0.18,0.15],[0.28,0.20],[0.38,0.23],[0.48,0.24],[0.60,0.26],[0.70,0.26],[0.80,0.26],[0.84,0.22],[0.80,0.14],[0.75,0.05],[0.70,-0.04],[0.63,-0.12],[0.56,-0.20],[0.48,-0.28],[0.42,-0.35],[0.36,-0.42],[0.30,-0.48],[0.22,-0.52],[0.10,-0.53],[-0.01,-0.53]],
  [[0.12,-0.52],[0.04,-0.47],[0.01,-0.36],[0.01,-0.22],[0.04,-0.10],[0.10,0.00],[0.20,0.10],[0.32,0.17],[0.46,0.21],[0.60,0.23],[0.74,0.24],[0.82,0.20],[0.86,0.10],[0.92,0.02],[0.98,-0.06],[1.00,-0.14],[0.95,-0.22],[0.85,-0.29],[0.72,-0.33],[0.58,-0.34],[0.46,-0.38],[0.34,-0.44],[0.22,-0.50],[0.12,-0.52]],
  [[0.14,-0.50],[0.06,-0.45],[0.04,-0.34],[0.05,-0.22],[0.10,-0.10],[0.18,0.00],[0.28,0.10],[0.40,0.17],[0.54,0.22],[0.68,0.24],[0.78,0.24],[0.80,0.16],[0.76,0.06],[0.70,-0.04],[0.62,-0.13],[0.54,-0.22],[0.46,-0.30],[0.38,-0.38],[0.28,-0.45],[0.14,-0.50]],
  [[0.04,-0.53],[-0.04,-0.48],[-0.06,-0.36],[-0.06,-0.22],[-0.03,-0.10],[0.04,0.00],[0.12,0.08],[0.22,0.15],[0.34,0.20],[0.48,0.23],[0.62,0.24],[0.76,0.24],[0.82,0.18],[0.80,0.08],[0.76,-0.02],[0.70,-0.10],[0.62,-0.18],[0.54,-0.26],[0.46,-0.34],[0.38,-0.42],[0.28,-0.49],[0.16,-0.53],[0.04,-0.53]],
  [[0.02,-0.53],[-0.05,-0.48],[-0.07,-0.36],[-0.07,-0.22],[-0.04,-0.10],[0.02,0.00],[0.10,0.08],[0.20,0.15],[0.32,0.20],[0.46,0.23],[0.60,0.25],[0.74,0.25],[0.82,0.20],[0.79,0.10],[0.74,0.00],[0.68,-0.08],[0.60,-0.16],[0.52,-0.24],[0.44,-0.32],[0.37,-0.40],[0.30,-0.47],[0.20,-0.52],[0.02,-0.53]],
  [[0.01,-0.53],[-0.05,-0.50],[-0.08,-0.43],[-0.10,-0.32],[-0.10,-0.18],[-0.08,-0.09],[-0.04,-0.08],[-0.02,-0.10],[0.00,-0.04],[0.03,0.01],[0.07,0.04],[0.10,0.08],[0.17,0.14],[0.26,0.19],[0.36,0.22],[0.45,0.23],[0.58,0.25],[0.67,0.26],[0.74,0.25],[0.80,0.24],[0.80,0.21],[0.77,0.13],[0.71,0.01],[0.64,-0.06],[0.55,-0.15],[0.42,-0.25],[0.36,-0.32],[0.33,-0.41],[0.31,-0.50],[0.28,-0.54],[0.23,-0.53],[0.10,-0.51],[0.01,-0.53]]
];
const contZK = [
  [[-0.10,-0.69],[-0.28,-0.66],[-0.43,-0.60],[-0.53,-0.54],[-0.59,-0.47],[-0.62,-0.37],[-0.63,-0.23],[-0.63,-0.12],[-0.58,-0.09],[-0.55,-0.10],[-0.52,-0.06],[-0.48,-0.03],[-0.44,0.00],[-0.40,0.05],[-0.34,0.07],[-0.29,0.08],[-0.24,0.06],[-0.16,0.04],[-0.08,0.03],[0.00,0.02],[0.10,-0.01],[0.20,-0.04],[0.28,-0.07],[0.35,-0.09],[0.40,-0.16],[0.44,-0.29],[0.57,-0.32],[0.62,-0.40],[0.74,-0.43],[0.77,-0.48],[0.74,-0.55],[0.64,-0.62],[0.50,-0.66],[0.30,-0.68],[0.10,-0.69],[-0.10,-0.69]],
  [[-0.12,-0.69],[-0.30,-0.65],[-0.45,-0.59],[-0.55,-0.53],[-0.60,-0.46],[-0.63,-0.36],[-0.65,-0.22],[-0.65,-0.11],[-0.60,-0.08],[-0.55,-0.09],[-0.53,-0.05],[-0.49,-0.03],[-0.45,0.00],[-0.41,0.05],[-0.35,0.08],[-0.29,0.09],[-0.24,0.07],[-0.16,0.05],[-0.08,0.04],[0.00,0.03],[0.08,0.00],[0.16,-0.02],[0.22,-0.05],[0.27,-0.10],[0.30,-0.14],[0.34,-0.20],[0.33,-0.28],[0.30,-0.36],[0.26,-0.45],[0.18,-0.56],[0.09,-0.64],[0.00,-0.68],[-0.12,-0.69]],
  [[-0.05,-0.67],[-0.20,-0.65],[-0.35,-0.60],[-0.44,-0.50],[-0.46,-0.38],[-0.45,-0.24],[-0.42,-0.10],[-0.38,0.00],[-0.32,0.06],[-0.25,0.06],[-0.15,0.04],[-0.05,0.02],[0.08,-0.01],[0.20,-0.04],[0.28,-0.07],[0.34,-0.14],[0.40,-0.28],[0.50,-0.36],[0.49,-0.46],[0.44,-0.55],[0.34,-0.62],[0.17,-0.66],[-0.05,-0.67]],
  [[-0.10,-0.64],[-0.25,-0.62],[-0.38,-0.56],[-0.44,-0.46],[-0.46,-0.34],[-0.46,-0.20],[-0.44,-0.08],[-0.40,0.02],[-0.34,0.07],[-0.26,0.07],[-0.16,0.05],[-0.06,0.03],[0.06,0.00],[0.16,-0.03],[0.22,-0.06],[0.26,-0.12],[0.30,-0.20],[0.30,-0.30],[0.26,-0.40],[0.20,-0.50],[0.12,-0.58],[0.02,-0.63],[-0.10,-0.64]],
  [[-0.12,-0.68],[-0.28,-0.65],[-0.42,-0.59],[-0.52,-0.52],[-0.58,-0.44],[-0.61,-0.34],[-0.62,-0.21],[-0.61,-0.10],[-0.55,-0.06],[-0.48,-0.02],[-0.42,0.03],[-0.35,0.07],[-0.28,0.07],[-0.18,0.04],[-0.08,0.03],[0.04,0.00],[0.14,-0.03],[0.22,-0.07],[0.28,-0.14],[0.34,-0.22],[0.38,-0.32],[0.36,-0.42],[0.30,-0.52],[0.20,-0.60],[0.06,-0.66],[-0.12,-0.68]],
  [[-0.13,-0.68],[-0.29,-0.64],[-0.43,-0.58],[-0.53,-0.51],[-0.59,-0.43],[-0.62,-0.33],[-0.63,-0.20],[-0.62,-0.10],[-0.56,-0.06],[-0.49,-0.02],[-0.43,0.03],[-0.36,0.07],[-0.29,0.08],[-0.19,0.05],[-0.09,0.04],[0.03,0.01],[0.13,-0.02],[0.21,-0.06],[0.26,-0.12],[0.31,-0.20],[0.33,-0.30],[0.31,-0.40],[0.26,-0.50],[0.17,-0.59],[0.05,-0.65],[-0.13,-0.68]],
  [[-0.15,-0.68],[-0.30,-0.64],[-0.44,-0.58],[-0.54,-0.52],[-0.59,-0.46],[-0.62,-0.36],[-0.64,-0.22],[-0.64,-0.11],[-0.59,-0.08],[-0.56,-0.09],[-0.54,-0.06],[-0.51,-0.04],[-0.47,-0.02],[-0.44,0.01],[-0.40,0.06],[-0.34,0.08],[-0.30,0.08],[-0.25,0.06],[-0.17,0.04],[-0.10,0.03],[-0.03,0.01],[0.07,-0.01],[0.13,-0.04],[0.17,-0.07],[0.15,-0.11],[0.13,-0.18],[0.10,-0.29],[0.03,-0.41],[-0.03,-0.52],[-0.10,-0.62],[-0.15,-0.68]]
];
const contJK = [
  [[-0.10,-0.69],[-0.22,-0.66],[-0.33,-0.61],[-0.41,-0.54],[-0.46,-0.45],[-0.49,-0.33],[-0.50,-0.19],[-0.49,-0.10],[-0.46,-0.06],[-0.44,-0.01],[-0.40,0.04],[-0.37,0.07],[-0.33,0.08],[-0.26,0.06],[-0.18,0.04],[-0.10,0.02],[-0.02,0.01],[0.05,-0.02],[0.10,-0.05],[0.14,-0.10],[0.17,-0.15],[0.19,-0.22],[0.20,-0.34],[0.25,-0.43],[0.27,-0.47],[0.24,-0.53],[0.17,-0.60],[0.08,-0.64],[0.00,-0.68],[-0.10,-0.69]],
  [[-0.12,-0.69],[-0.24,-0.65],[-0.34,-0.60],[-0.42,-0.53],[-0.47,-0.44],[-0.50,-0.32],[-0.51,-0.18],[-0.50,-0.09],[-0.47,-0.05],[-0.45,0.00],[-0.41,0.04],[-0.37,0.08],[-0.33,0.09],[-0.26,0.07],[-0.18,0.05],[-0.10,0.03],[-0.02,0.02],[0.05,-0.01],[0.12,-0.04],[0.15,-0.08],[0.18,-0.18],[0.20,-0.22],[0.17,-0.32],[0.15,-0.43],[0.08,-0.55],[0.00,-0.64],[-0.12,-0.69]],
  [[-0.08,-0.68],[-0.20,-0.64],[-0.30,-0.58],[-0.37,-0.50],[-0.41,-0.40],[-0.43,-0.28],[-0.44,-0.16],[-0.43,-0.06],[-0.40,0.02],[-0.35,0.07],[-0.28,0.07],[-0.18,0.04],[-0.08,0.02],[0.02,0.00],[0.09,-0.04],[0.12,-0.10],[0.12,-0.20],[0.13,-0.30],[0.18,-0.38],[0.17,-0.46],[0.12,-0.55],[0.04,-0.62],[-0.08,-0.68]],
  [[-0.10,-0.64],[-0.22,-0.61],[-0.32,-0.56],[-0.39,-0.48],[-0.42,-0.38],[-0.43,-0.26],[-0.43,-0.14],[-0.42,-0.04],[-0.39,0.03],[-0.34,0.07],[-0.27,0.07],[-0.18,0.05],[-0.08,0.03],[0.02,0.01],[0.09,-0.03],[0.13,-0.10],[0.14,-0.20],[0.12,-0.30],[0.09,-0.40],[0.05,-0.50],[0.00,-0.58],[-0.10,-0.64]],
  [[-0.10,-0.68],[-0.22,-0.64],[-0.32,-0.59],[-0.40,-0.52],[-0.45,-0.43],[-0.48,-0.31],[-0.49,-0.18],[-0.48,-0.09],[-0.44,-0.02],[-0.39,0.05],[-0.33,0.08],[-0.25,0.07],[-0.16,0.04],[-0.06,0.02],[0.04,-0.01],[0.10,-0.05],[0.14,-0.12],[0.16,-0.22],[0.17,-0.32],[0.16,-0.42],[0.12,-0.52],[0.05,-0.60],[-0.02,-0.65],[-0.10,-0.68]],
  [[-0.11,-0.68],[-0.23,-0.64],[-0.33,-0.59],[-0.41,-0.52],[-0.46,-0.43],[-0.49,-0.31],[-0.50,-0.18],[-0.49,-0.09],[-0.45,-0.03],[-0.40,0.04],[-0.34,0.08],[-0.26,0.07],[-0.17,0.05],[-0.07,0.03],[0.03,0.00],[0.10,-0.04],[0.14,-0.10],[0.17,-0.20],[0.18,-0.30],[0.16,-0.40],[0.12,-0.50],[0.06,-0.58],[-0.02,-0.64],[-0.11,-0.68]],
  [[-0.10,-0.69],[-0.22,-0.64],[-0.33,-0.60],[-0.41,-0.52],[-0.47,-0.43],[-0.49,-0.32],[-0.50,-0.18],[-0.49,-0.09],[-0.46,-0.06],[-0.44,-0.01],[-0.40,0.04],[-0.37,0.07],[-0.33,0.08],[-0.26,0.06],[-0.18,0.04],[-0.09,0.01],[0.00,-0.01],[0.04,-0.06],[0.05,-0.11],[0.04,-0.22],[0.02,-0.34],[-0.03,-0.46],[-0.07,-0.57],[-0.09,-0.66],[-0.10,-0.69]]
];

// ---------------------------------------------------------------
// Linear relations: [SMC 0.0-5.0 (dashed red), CF00 0.0-5.0 (dashed cyan), 0.0 mag (dotted blue)]
// ---------------------------------------------------------------
const fitsUG = [[[0.01,-0.78],[1.88,0.53]], [[0.02,-0.58],[1.88,0.56]], [[0.02,-0.77],[1.86,0.53]]];
const fitsUI = [[[-0.06,-0.42],[2.93,0.29]], [[-0.06,-0.32],[2.60,0.28]], [[-0.06,-0.39],[2.96,0.33]]];
const fitsBV = [[[-0.09,-0.61],[0.93,0.52]], [[-0.08,-0.50],[0.78,0.39]], [[-0.08,-0.60],[0.93,0.54]]];
const fitsGR = [[[-0.09,-0.53],[0.88,0.52]], [[-0.09,-0.44],[0.60,0.32]], [[-0.09,-0.51],[0.93,0.55]]];
const fitsGI = [[[-0.25,-0.45],[1.17,0.30]], [[-0.25,-0.38],[1.10,0.26]], [[-0.25,-0.45],[1.23,0.385]]];
const fitsGZ = [[[-0.40,-0.36],[1.46,0.09]], [[-0.38,-0.36],[1.71,0.24]], [[-0.38,-0.40],[1.71,0.31]]];
const fitsGH = [[[-0.48,-0.32],[2.63,-0.25]], [[-0.48,-0.34],[2.56,-0.08]], [[-0.48,-0.39],[2.66,0.02]]];
const fitsVI = [[[0.27,-0.41],[1.29,0.23]], [[0.28,-0.38],[1.34,0.35]], [[0.27,-0.46],[1.34,0.42]]];
const fitsVJ = [[[0.55,-0.31],[2.73,-0.07]], [[0.52,-0.34],[2.73,0.15]], [[0.52,-0.40],[2.73,0.26]]];
const fitsRY = [[[-0.13,-0.32],[1.12,0.04]], [[-0.13,-0.37],[1.15,0.28]], [[-0.13,-0.42],[1.15,0.40]]];
const fitsZK = [[[-0.76,-0.28],[0.45,-0.42]], [[-0.76,-0.28],[0.60,-0.31]], [[-0.76,-0.37],[0.94,-0.18]]];
const fitsJK = [[[-0.63,-0.23],[0.41,-0.49]], [[-0.63,-0.26],[0.41,-0.36]], [[-0.63,-0.35],[0.41,-0.245]]];

// ---------------------------------------------------------------
// Panel setup
// ---------------------------------------------------------------
const panels = [
  { a: "u", b: "g", sys: "AB",   band: "g", xDomain: [-0.30, 2.23], ticks: ticksUG, cont: contUG, fits: fitsUG },
  { a: "u", b: "i", sys: "AB",   band: "i", xDomain: [-0.73, 3.71], ticks: ticksUI, cont: contUI, fits: fitsUI },
  { a: "B", b: "V", sys: "Vega", band: "V", xDomain: [-0.21, 1.16], ticks: ticksBV, cont: contBV, fits: fitsBV },
  { a: "g", b: "r", sys: "AB",   band: "r", xDomain: [-0.25, 1.05], ticks: ticksGR, cont: contGR, fits: fitsGR },
  { a: "g", b: "i", sys: "AB",   band: "i", xDomain: [-0.48, 1.58], ticks: ticksGI, cont: contGI, fits: fitsGI },
  { a: "g", b: "z", sys: "AB",   band: "z", xDomain: [-0.54, 2.10], ticks: ticksGZ, cont: contGZ, fits: fitsGZ },
  { a: "g", b: "H", sys: "AB",   band: "H", xDomain: [-1.06, 3.50], ticks: ticksGH, cont: contGH, fits: fitsGH },
  { a: "V", b: "I", sys: "Vega", band: "I", xDomain: [0.18, 1.47],  ticks: ticksVI, cont: contVI, fits: fitsVI },
  { a: "V", b: "J", sys: "Vega", band: "J", xDomain: [0.08, 3.12],  ticks: ticksVJ, cont: contVJ, fits: fitsVJ },
  { a: "r", b: "y", sys: "AB",   band: "y", xDomain: [-0.32, 1.45], ticks: ticksRY, cont: contRY, fits: fitsRY },
  { a: "z", b: "K", sys: "AB",   band: "K", xDomain: [-0.91, 1.01], ticks: ticksZK, cont: contZK, fits: fitsZK },
  { a: "J", b: "K", sys: "AB",   band: "K", xDomain: [-0.66, 0.55], ticks: ticksJK, cont: contJK, fits: fitsJK }
];

const contourStyles = [
  { color: "#ff0000", width: 2.4, opacity: 1 },
  { color: "#00ffff", width: 2.4, opacity: 1 },
  { color: "#ff0000", width: 1.0, opacity: 1 },
  { color: "#00ffff", width: 1.0, opacity: 1 },
  { color: "#ff5050", width: 1.0, opacity: 0.8 },
  { color: "#3cc6c6", width: 1.0, opacity: 0.9 },
  { color: "#0000ff", width: 1.5, opacity: 1 }
];
const fitStyles = [
  { color: "#ff0000", width: 2.2, dash: "9,5" },
  { color: "#00ffff", width: 3.2, dash: "6,3.5" },
  { color: "#0000ff", width: 1.6, dash: "1.6,2.4" }
];

const legendItems = [
  { col: 0, row: 0, color: "#ff0000", width: 3,   value: "0.0–5.0 mag (SMC)" },
  { col: 0, row: 1, color: "#00ffff", width: 3,   value: "0.0–5.0 mag (CF00)" },
  { col: 1, row: 0, color: "#ff0000", width: 1.2, value: "3.0 mag (SMC)" },
  { col: 1, row: 1, color: "#00ffff", width: 1.2, value: "3.0 mag (CF00)" },
  { col: 2, row: 0, color: "#ff6b6b", width: 1.2, value: "0.5 mag (SMC)" },
  { col: 3, row: 0, color: "#7fefef", width: 1.2, value: "0.5 mag (CF00)" },
  { col: 4, row: 0, color: "#0000ff", width: 1.5, value: "0.0 mag" }
];

// ---------------------------------------------------------------
// Layout
// ---------------------------------------------------------------
const colLeft = [75, 381, 689, 994];
const rowTop = [68, 328, 588];
const PW = 228, PH = 207;
const yDomain = [-0.8, 0.655];
const fmt = d3.format(".1f");
const STAR_FONT = "'DejaVu Sans', sans-serif";
const UPS_FONT = "'DejaVu Serif', serif";

const svg = d3.select("#fig");

// header band, title, legend
svg.append("rect").attr("x", 70).attr("y", 0).attr("width", 1160).attr("height", 65).attr("fill", "#e7e7e7");

function addParts(sel, parts) {
  parts.forEach(p => {
    const t = sel.append("tspan").text(p.t);
    if (p.i) t.attr("font-style", "italic");
    if (p.b) t.attr("font-weight", "bold");
    if (p.s) t.attr("font-size", p.s);
    if (p.dy) t.attr("dy", p.dy);
    if (p.f) t.attr("font-family", p.f);
  });
}

const title = svg.append("text").attr("x", 75).attr("y", 19).attr("font-size", 20).attr("fill", "#111")
  .attr("textLength", 915).attr("lengthAdjust", "spacingAndGlyphs");
addParts(title, [
  { t: "Color–log" }, { t: "ϒ", f: UPS_FONT, s: 18 }, { t: "⋆", s: 15, dy: 4, f: STAR_FONT }, { t: "(", dy: -4 }, { t: "λ", i: 1 },
  { t: ") distributions of the samples with different extinction curves & " },
  { t: "A", i: 1 }, { t: "V", i: 1, s: 13, dy: 4 }, { t: ",young", s: 13 }
]);

svg.append("rect").attr("x", 75).attr("y", 28).attr("width", 1109).attr("height", 35)
  .attr("fill", "#fff").attr("stroke", "#000").attr("stroke-width", 2);

const legColX = [82, 343, 573, 802, 1033];
const legRowY = [36, 52];
const legTextW = [[197, 201], [171, 173], [172], [173], [127]];
legendItems.forEach(it => {
  const x0 = legColX[it.col], y0 = legRowY[it.row];
  svg.append("line").attr("x1", x0).attr("x2", x0 + 19).attr("y1", y0).attr("y2", y0)
    .attr("stroke", it.color).attr("stroke-width", it.width);
  const tx = svg.append("text").attr("x", x0 + 26).attr("y", y0 + 4).attr("font-size", 13).attr("fill", "#111")
    .attr("textLength", legTextW[it.col][it.row]).attr("lengthAdjust", "spacingAndGlyphs");
  addParts(tx, [
    { t: "A", i: 1 }, { t: "V", i: 1, s: 9, dy: 3 }, { t: ",young", s: 9 }, { t: " = " + it.value, dy: -3 }
  ]);
});

// ---------------------------------------------------------------
// Panels
// ---------------------------------------------------------------
const line = d3.line();

panels.forEach((p, k) => {
  const left = colLeft[k % 4], top = rowTop[Math.floor(k / 4)];
  const x = d3.scaleLinear().domain(p.xDomain).range([left, left + PW]);
  const y = d3.scaleLinear().domain(yDomain).range([top + PH, top]);
  const g = svg.append("g");

  const clipId = "clip" + k;
  svg.append("clipPath").attr("id", clipId).append("rect")
    .attr("x", left).attr("y", top).attr("width", PW).attr("height", PH);

  const plot = g.append("g").attr("clip-path", `url(#${clipId})`);
  line.x(d => x(d[0])).y(d => y(d[1]));

  p.cont.forEach((c, i) => {
    const st = contourStyles[i];
    plot.append("path").attr("d", line(c)).attr("fill", "none")
      .attr("stroke", st.color).attr("stroke-width", st.width).attr("stroke-opacity", st.opacity)
      .attr("stroke-linejoin", "round");
  });
  p.fits.forEach((f, i) => {
    const st = fitStyles[i];
    plot.append("path").attr("d", line(f)).attr("fill", "none")
      .attr("stroke", st.color).attr("stroke-width", st.width).attr("stroke-dasharray", st.dash);
  });

  // frame with major and minor ticks on all sides
  const step = p.ticks[1] - p.ticks[0];
  const mx = step / 8;
  const [d0, d1] = p.xDomain;
  const minorX = d3.range(Math.ceil((d0 - p.ticks[0]) / mx - 1e-6), Math.floor((d1 - p.ticks[0]) / mx + 1e-6) + 1)
    .map(j => p.ticks[0] + j * mx);
  const minorY = d3.range(0, Math.floor((yDomain[1] - yDomain[0]) / 0.04 + 1e-6) + 1).map(j => yDomain[0] + j * 0.04);
  const majorX = p.ticks.filter(v => v >= d0 - 1e-6 && v <= d1 + 1e-6);

  const tk = g.append("g").attr("stroke", "#000").attr("stroke-width", 1.6);
  minorX.forEach(v => {
    tk.append("line").attr("x1", x(v)).attr("x2", x(v)).attr("y1", top + PH).attr("y2", top + PH - 3.5);
    tk.append("line").attr("x1", x(v)).attr("x2", x(v)).attr("y1", top).attr("y2", top + 3.5);
  });
  majorX.forEach(v => {
    tk.append("line").attr("x1", x(v)).attr("x2", x(v)).attr("y1", top + PH).attr("y2", top + PH - 7);
    tk.append("line").attr("x1", x(v)).attr("x2", x(v)).attr("y1", top).attr("y2", top + 7);
  });
  minorY.forEach(v => {
    tk.append("line").attr("x1", left).attr("x2", left + 3.5).attr("y1", y(v)).attr("y2", y(v));
    tk.append("line").attr("x1", left + PW).attr("x2", left + PW - 3.5).attr("y1", y(v)).attr("y2", y(v));
  });
  yTicks.forEach(v => {
    tk.append("line").attr("x1", left).attr("x2", left + 7).attr("y1", y(v)).attr("y2", y(v));
    tk.append("line").attr("x1", left + PW).attr("x2", left + PW - 7).attr("y1", y(v)).attr("y2", y(v));
  });
  g.append("rect").attr("x", left).attr("y", top).attr("width", PW).attr("height", PH)
    .attr("fill", "none").attr("stroke", "#000").attr("stroke-width", 2.4);

  // tick labels
  const xAxis = g.append("g").attr("transform", `translate(0,${top + PH})`)
    .call(d3.axisBottom(x).tickValues(p.ticks).tickFormat(fmt).tickSize(0).tickPadding(3));
  const yAxis = g.append("g").attr("transform", `translate(${left},0)`)
    .call(d3.axisLeft(y).tickValues(yTicks).tickFormat(fmt).tickSize(0).tickPadding(3));
  [xAxis, yAxis].forEach(ax => {
    ax.select(".domain").remove();
    ax.selectAll("text").attr("font-size", 15).attr("fill", "#333")
      .attr("font-family", "'Liberation Serif','Times New Roman',serif");
  });

  // axis titles
  const xl = g.append("text").attr("x", left + PW / 2).attr("y", top + PH + 34)
    .attr("text-anchor", "middle").attr("font-size", 20).attr("fill", "#111");
  addParts(xl, [{ t: p.a, i: 1 }, { t: " − " }, { t: p.b, i: 1 }, { t: " (" + p.sys + ")", b: 1 }]);

  const yl = g.append("text")
    .attr("transform", `translate(${left - 44},${top + PH / 2}) rotate(-90)`)
    .attr("text-anchor", "middle").attr("font-size", 22).attr("fill", "#111");
  addParts(yl, [
    { t: "log ", b: 1 }, { t: "ϒ", b: 1, f: UPS_FONT, s: 20 }, { t: "⋆", s: 16, dy: 5, f: STAR_FONT },
    { t: "(", b: 1, dy: -5 }, { t: p.band, i: 1 }, { t: ")", b: 1 }
  ]);
});
</script>
</body>
</html>
